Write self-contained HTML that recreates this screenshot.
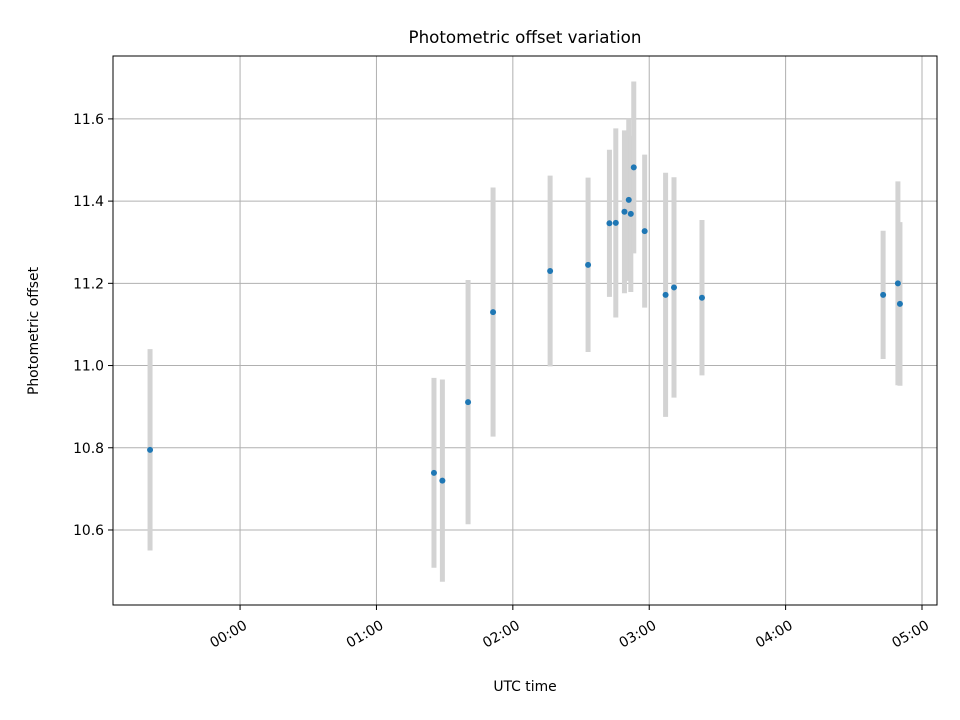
<!DOCTYPE html>
<html><head><meta charset="utf-8"><style>
body{margin:0;background:#fff;}
svg{display:block;font-family:"DejaVu Sans","Liberation Sans",sans-serif;}
</style></head><body>
<svg id="chart" width="960" height="720" viewBox="0 0 960 720">
<rect width="960" height="720" fill="#fff"/>
<text x="525" y="43" font-size="16.7" text-anchor="middle">Photometric offset variation</text>
<g id="grid"></g>
<g id="errs"></g>
<g id="pts"></g>
<rect x="113" y="56" width="824" height="549" fill="none" stroke="#000" stroke-width="1"/>
<g id="xt"></g>
<g id="yt"></g>
<text x="525" y="691" font-size="13.9" text-anchor="middle">UTC time</text>
<text transform="translate(38,331) rotate(-90)" font-size="13.9" text-anchor="middle">Photometric offset</text>
</svg>
<script>
// times in minutes relative to 00:00 UTC
const times = [-39.6, 85.3, 89.0, 100.3, 111.3, 136.4, 153.1, 162.5, 165.3, 169.1, 171.0, 171.9, 173.2, 178.0, 187.2, 190.9, 203.2, 282.9, 289.4, 290.3];
const offsets = [10.795, 10.739, 10.720, 10.911, 11.130, 11.230, 11.245, 11.346, 11.347, 11.374, 11.403, 11.369, 11.482, 11.327, 11.172, 11.190, 11.165, 11.172, 11.200, 11.150];
const errors = [0.245, 0.231, 0.246, 0.297, 0.303, 0.232, 0.212, 0.179, 0.230, 0.198, 0.197, 0.190, 0.209, 0.186, 0.297, 0.268, 0.189, 0.156, 0.248, 0.199];
const xTickMinutes = [0, 60, 120, 180, 240, 300];
const xTickLabels = ["00:00", "01:00", "02:00", "03:00", "04:00", "05:00"];
const yTicks = [10.6, 10.8, 11.0, 11.2, 11.4, 11.6];
const yTickLabels = ["10.6", "10.8", "11.0", "11.2", "11.4", "11.6"];

const L=113,R=937,T=56,B=605;
const xMin=-55.9,xMax=306.6,yMin=10.4175,yMax=11.753;
const sx=v=>L+(v-xMin)/(xMax-xMin)*(R-L);
const sy=v=>B-(v-yMin)/(yMax-yMin)*(B-T);
const NS="http://www.w3.org/2000/svg";
function mk(tag,attrs,parent){const e=document.createElementNS(NS,tag);for(const k in attrs)e.setAttribute(k,attrs[k]);parent.appendChild(e);return e;}
const grid=document.getElementById('grid'),xt=document.getElementById('xt'),yt=document.getElementById('yt');
xTickMinutes.forEach((m,i)=>{
  const x=sx(m);
  const g=mk('line',{x1:x,x2:x,y1:T,y2:B,stroke:'#b0b0b0','stroke-width':1},grid);
  
  
  const t=mk('line',{x1:x,x2:x,y1:B,y2:B+5,stroke:'#000'},xt);
  
  
  const lb=mk('text',{x:0,y:0,'font-size':13.9,'text-anchor':'end',transform:`translate(${x+8},${B+23}) rotate(-30)`},xt);
  lb.textContent=xTickLabels[i];
  
  
});
yTicks.forEach((v,i)=>{
  const y=sy(v);
  const g=mk('line',{x1:L,x2:R,y1:y,y2:y,stroke:'#b0b0b0','stroke-width':1},grid);
  
  
  const t=mk('line',{x1:L-5,x2:L,y1:y,y2:y,stroke:'#000'},yt);
  
  
  const lb=mk('text',{x:L-9,y:y+5,'font-size':13.9,'text-anchor':'end'},yt);
  lb.textContent=yTickLabels[i];
  
  
});
const errs=document.getElementById('errs'),pts=document.getElementById('pts');
times.forEach((m,i)=>{
  const x=sx(m);
  const e=mk('line',{x1:x,x2:x,y1:sy(offsets[i]+errors[i]),y2:sy(offsets[i]-errors[i]),stroke:'#d3d3d3','stroke-width':5},errs);
  
  
  const p=mk('circle',{cx:x,cy:sy(offsets[i]),r:3,fill:'#1f77b4'},pts);
  
  
});
</script>
</body></html>
